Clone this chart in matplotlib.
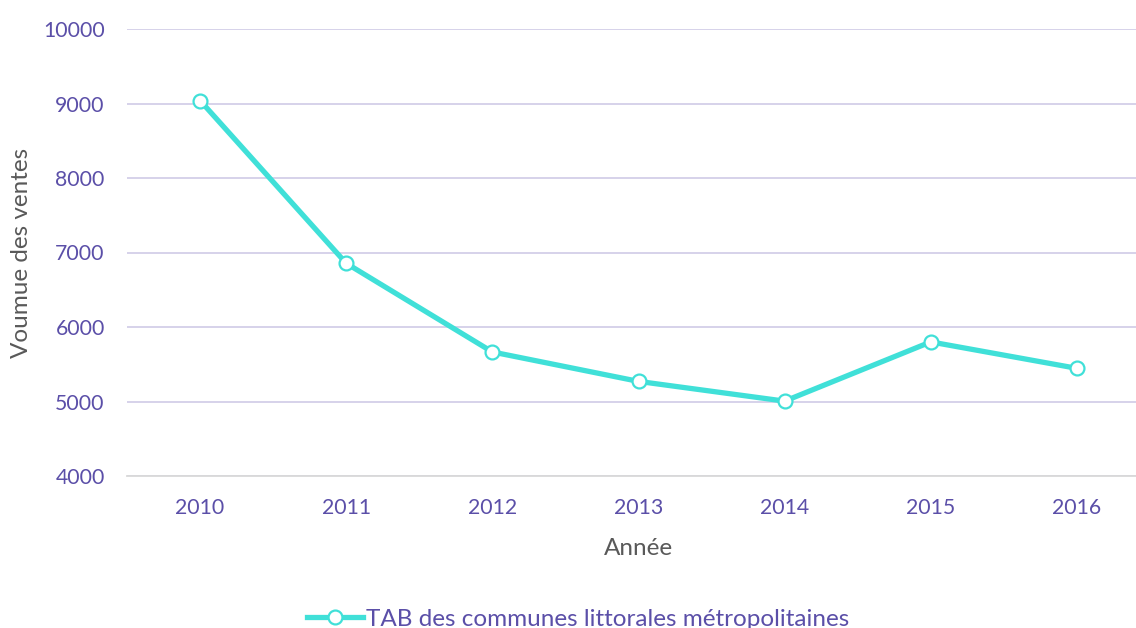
import numpy as np
import matplotlib.pyplot as plt

annees = ['2010', '2011', '2012', '2013', '2014', '2015', '2016']
ventes = [9040, 6855, 5665, 5270, 5005, 5800, 5445]
graduations = [4000, 5000, 6000, 7000, 8000, 9000, 10000]
serie = 'TAB des communes littorales métropolitaines'

plt.rcParams['font.family'] = ['Lato', 'DejaVu Sans']

violet = '#5b4fa8'
gris = '#595959'
turquoise = '#40e0d8'

fig = plt.figure(figsize=(11.36, 6.28), dpi=100)
ax = fig.add_axes([127 / 1136, 1 - 476 / 628, 1023 / 1136, 447 / 628])

x = np.arange(len(annees))
ax.plot(x, ventes, color=turquoise, linewidth=3.8, marker='o', markersize=10,
        markerfacecolor='white', markeredgecolor=turquoise, markeredgewidth=1.6,
        label=serie, zorder=3)

ax.set_xlim(-0.5, len(annees) - 0.5)
ax.set_ylim(4000, 10000)
ax.set_xticks(x)
ax.set_xticklabels(annees)
ax.set_yticks(graduations)

ax.grid(axis='y', color='#d3cfe8', linewidth=1.3)
ax.set_axisbelow(True)
for s in ['top', 'right', 'left']:
    ax.spines[s].set_visible(False)
ax.spines['bottom'].set_color('#d9d9d9')
ax.spines['bottom'].set_linewidth(1.3)

ax.tick_params(axis='both', length=0, labelsize=15.3, labelcolor=violet)
ax.tick_params(axis='x', pad=16)
ax.tick_params(axis='y', pad=16)

ax.set_xlabel('Année', fontsize=17.5, color=gris, labelpad=14)
ax.set_ylabel('Voumue des ventes', fontsize=17.5, color=gris)
ax.yaxis.set_label_coords(-95 / 1023, 0.5)

leg = fig.legend(loc='center', bbox_to_anchor=(0.5 + 10 / 1136, 1 - 619 / 628),
                 frameon=False, fontsize=17.5, handlelength=2.3, handletextpad=0.15)
for t in leg.get_texts():
    t.set_color(violet)

fig.savefig('out.png', dpi=100)
